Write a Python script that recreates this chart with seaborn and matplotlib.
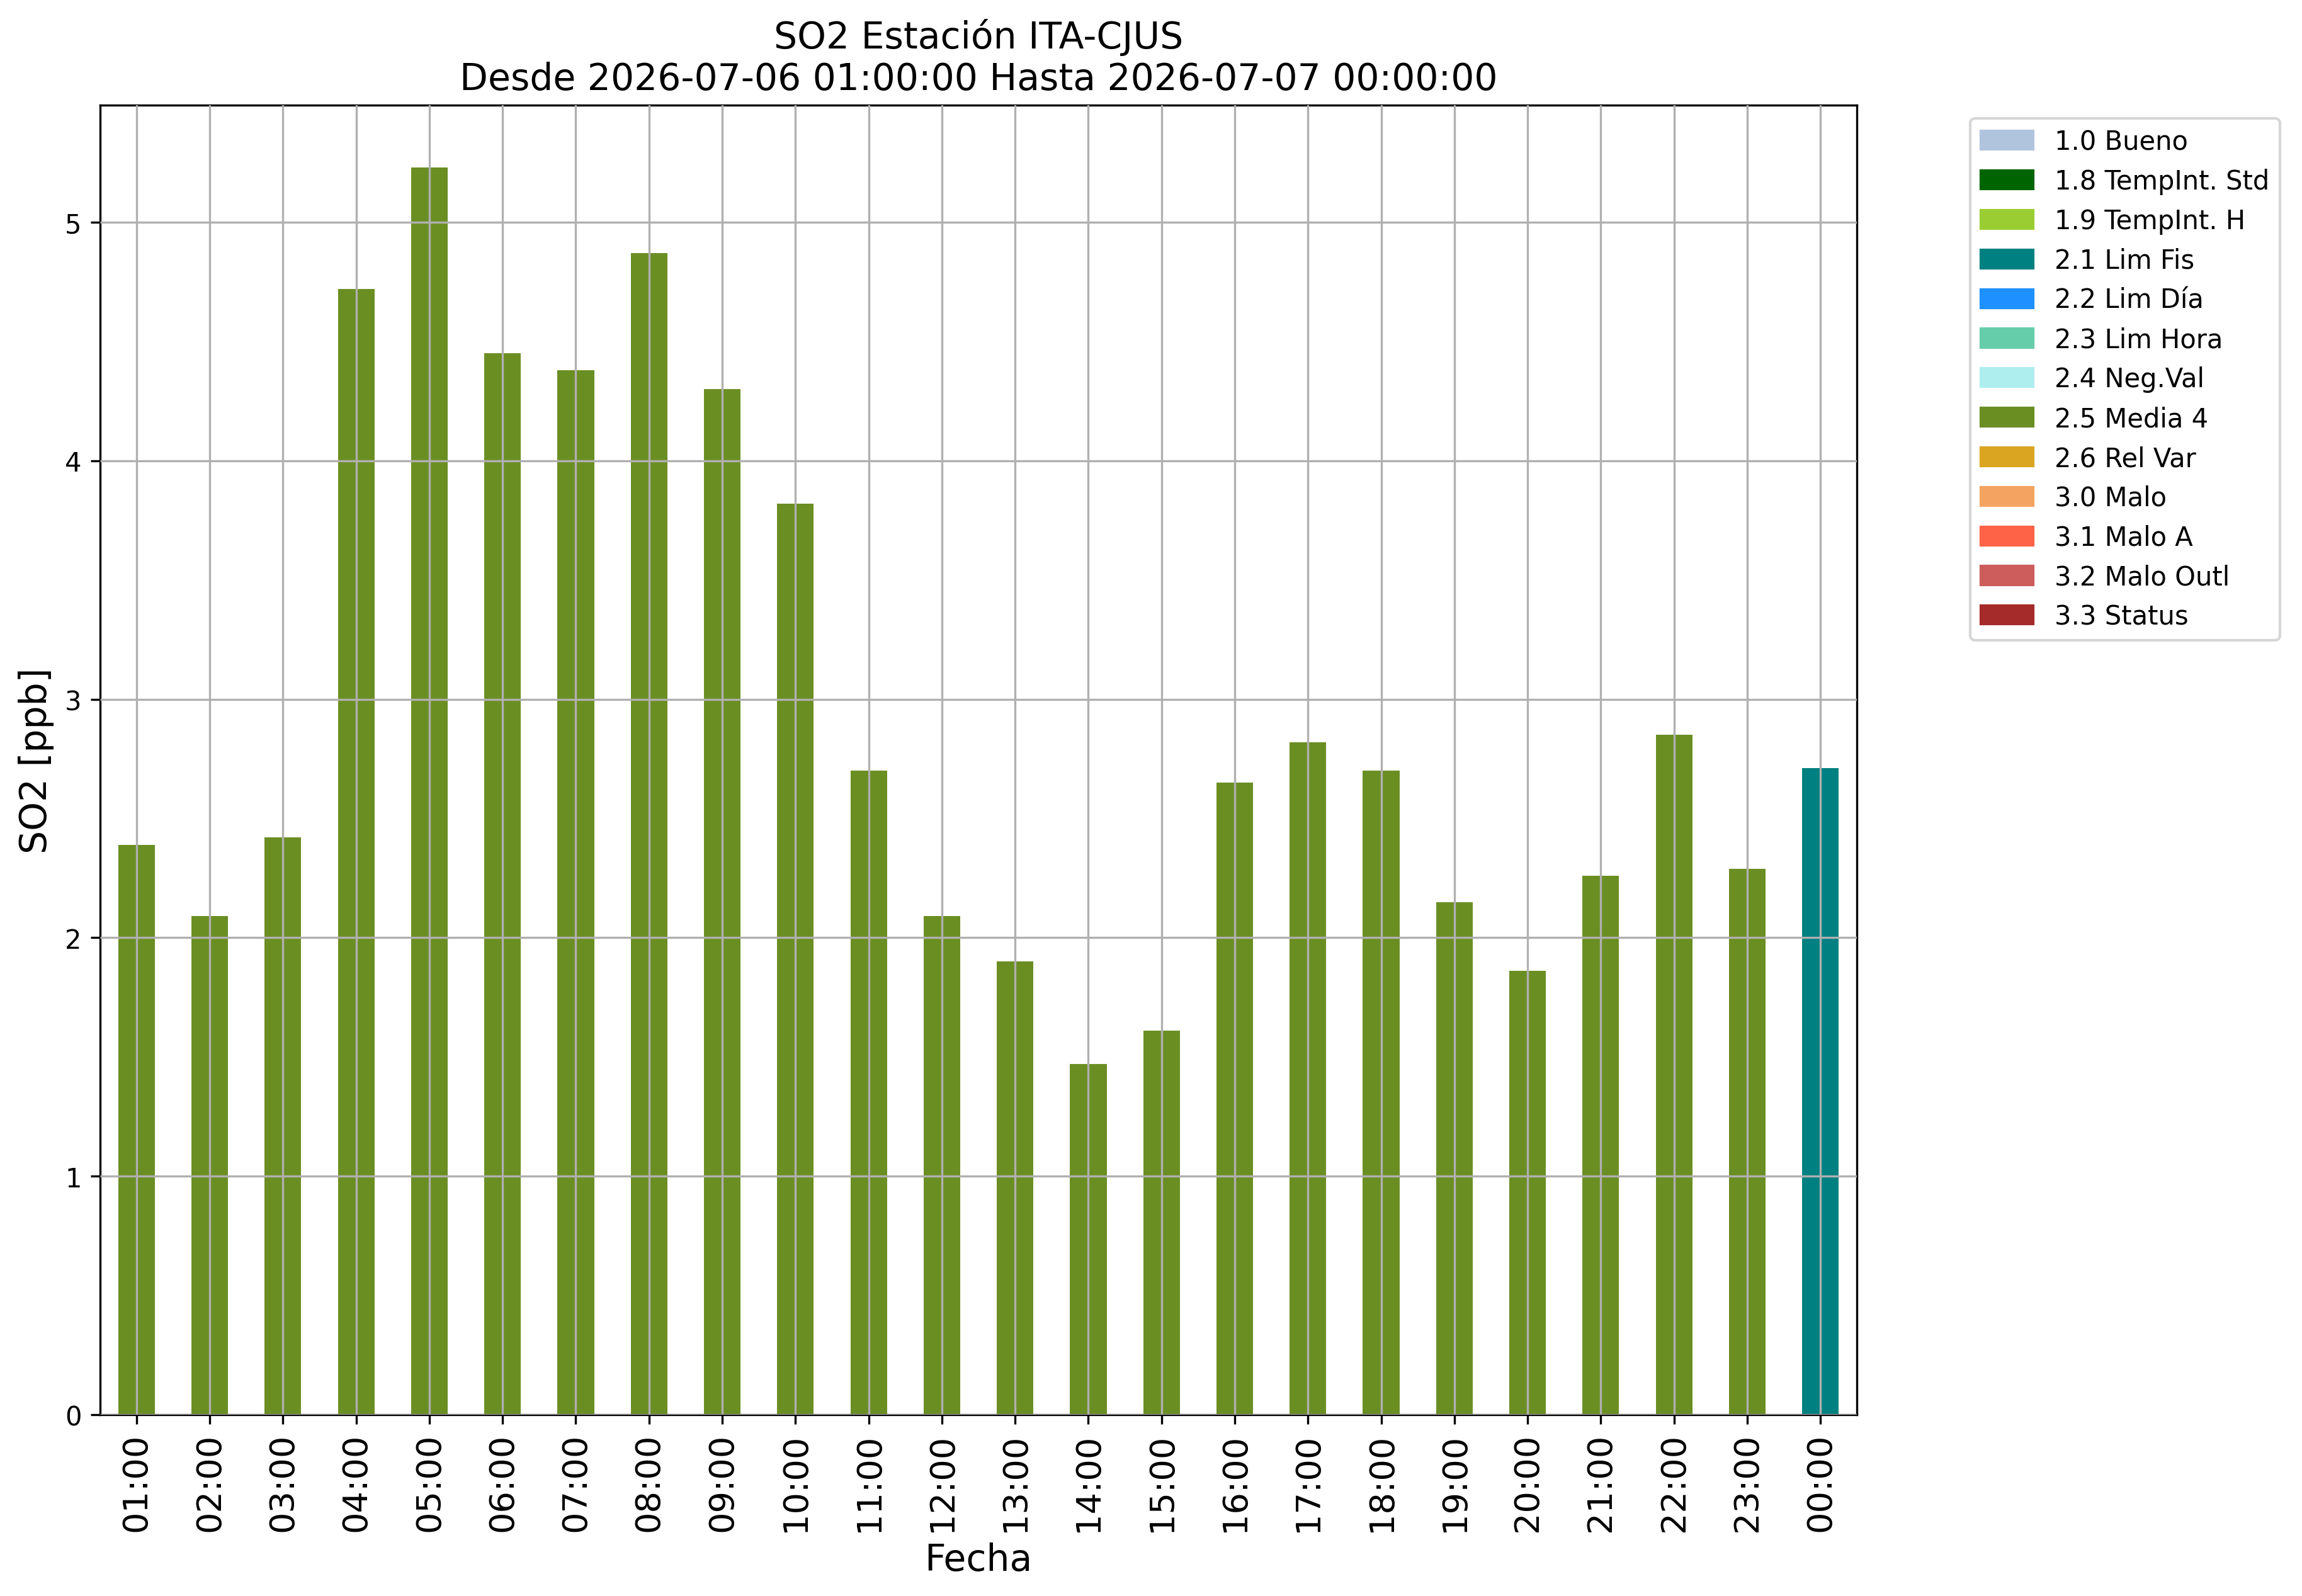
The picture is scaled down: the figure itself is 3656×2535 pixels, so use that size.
import pandas as pd
import matplotlib
matplotlib.use("Agg")
import matplotlib.pyplot as plt
import matplotlib.patches as mpatches
import seaborn as sns

# Datos
horas = ["01:00", "02:00", "03:00", "04:00", "05:00", "06:00", "07:00", "08:00",
         "09:00", "10:00", "11:00", "12:00", "13:00", "14:00", "15:00", "16:00",
         "17:00", "18:00", "19:00", "20:00", "21:00", "22:00", "23:00", "00:00"]
so2 = [2.39, 2.09, 2.42, 4.72, 5.23, 4.45, 4.38, 4.87, 4.30, 3.82, 2.70, 2.09,
       1.90, 1.47, 1.61, 2.65, 2.82, 2.70, 2.15, 1.86, 2.26, 2.85, 2.29, 2.71]
flags = ["2.5 Media 4"] * 23 + ["2.1 Lim Fis"]

categorias = ["1.0 Bueno", "1.8 TempInt. Std", "1.9 TempInt. H", "2.1 Lim Fis",
              "2.2 Lim Día", "2.3 Lim Hora", "2.4 Neg.Val", "2.5 Media 4",
              "2.6 Rel Var", "3.0 Malo", "3.1 Malo A", "3.2 Malo Outl", "3.3 Status"]
colores = ["lightsteelblue", "darkgreen", "yellowgreen", "teal", "dodgerblue",
           "mediumaquamarine", "paleturquoise", "olivedrab", "goldenrod",
           "sandybrown", "tomato", "indianred", "brown"]

df = pd.DataFrame({"Fecha": horas, "SO2": so2, "flag": flags})
paleta = dict(zip(categorias, colores))

fig = plt.figure(figsize=(12.187, 8.453), dpi=300)
ax = fig.add_axes([0.0434, 0.1136, 0.8067 - 0.0434, 0.9338 - 0.1136])

sns.barplot(data=df, x="Fecha", y="SO2", hue="flag", order=horas,
            palette=paleta, dodge=False, width=0.5, saturation=1,
            legend=False, ax=ax)

ax.set_xlim(-0.5, len(horas) - 0.5)
ax.set_ylim(0, max(so2) * 1.05)
ax.grid(True, color="#b0b0b0", linewidth=0.8)
ax.set_axisbelow(False)

ax.tick_params(axis="x", labelsize=13, labelrotation=90)
ax.tick_params(axis="y", labelsize=10)
ax.set_xlabel("Fecha", fontsize=14)
ax.set_ylabel("SO2 [ppb]", fontsize=14)
ax.set_title("SO2 Estación ITA-CJUS\nDesde 2026-07-06 01:00:00 Hasta 2026-07-07 00:00:00",
             fontsize=14)

handles = [mpatches.Patch(color=c, label=l) for l, c in zip(categorias, colores)]
ax.legend(handles=handles, bbox_to_anchor=(1.057, 1), loc="upper left", fontsize=10)

fig.savefig("out.png", dpi=300)
